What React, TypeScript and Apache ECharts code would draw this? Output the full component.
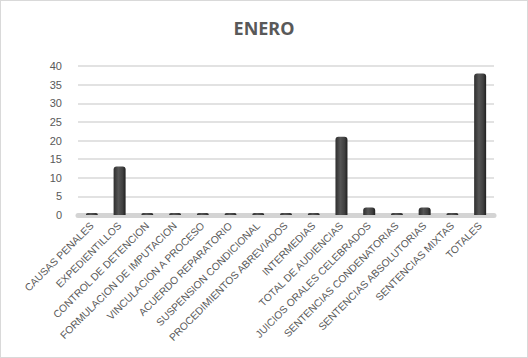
import React, { useEffect, useRef } from "react";
import * as echarts from "echarts";

const categories = [
  "CAUSAS PENALES",
  "EXPEDIENTILLOS",
  "CONTROL DE DETENCION",
  "FORMULACION DE IMPUTACION",
  "VINCULACION A PROCESO",
  "ACUERDO REPARATORIO",
  "SUSPENSION CONDICIONAL",
  "PROCEDIMIENTOS ABREVIADOS",
  "INTERMEDIAS",
  "TOTAL DE AUDIENCIAS",
  "JUICIOS ORALES CELEBRADOS",
  "SENTENCIAS CONDENATORIAS",
  "SENTENCIAS ABSOLUTORIAS",
  "SENTENCIAS MIXTAS",
  "TOTALES",
];
const values = [0, 13, 0, 0, 0, 0, 0, 0, 0, 21, 2, 0, 2, 0, 38];
const yTicks = { min: 0, max: 40, interval: 5 };
const title = "ENERO";

export default function App() {
  const ref = useRef<HTMLDivElement>(null);
  useEffect(() => {
    if (!ref.current) return;
    const chart = echarts.init(ref.current, undefined, { renderer: "svg" });
    const text = "#595959";
    chart.setOption({
      animation: false,
      backgroundColor: "#ffffff",
      title: {
        text: title,
        left: "center",
        top: 13,
        textStyle: {
          fontFamily: "Noto Sans",
          fontSize: 18,
          fontWeight: "bold",
          color: text,
        },
      },
      grid: { left: 77, right: 33, top: 65, bottom: 142 },
      xAxis: {
        type: "category",
        data: categories,
        axisTick: { show: false },
        axisLine: { lineStyle: { color: "#d4d4d4", width: 5 } },
        axisLabel: {
          rotate: 45,
          interval: 0,
          margin: 9,
          fontFamily: "Liberation Sans",
          fontSize: 10.3,
          color: text,
        },
      },
      yAxis: {
        type: "value",
        min: yTicks.min,
        max: yTicks.max,
        interval: yTicks.interval,
        axisLine: { show: false },
        axisTick: { show: false },
        axisLabel: {
          margin: 16,
          fontFamily: "Liberation Sans",
          fontSize: 11,
          color: text,
        },
        splitLine: { lineStyle: { color: "#d9d9d9", width: 1.5 } },
      },
      series: [
        {
          type: "bar",
          data: values,
          barWidth: 12,
          barMinHeight: 2,
          itemStyle: {
            borderRadius: [3, 3, 0, 0],
            color: new echarts.graphic.LinearGradient(0, 0, 1, 0, [
              { offset: 0, color: "#2e2e2e" },
              { offset: 0.4, color: "#555555" },
              { offset: 0.75, color: "#404040" },
              { offset: 1, color: "#1f1f1f" },
            ]),
          },
        },
      ],
    });
    return () => chart.dispose();
  }, []);
  return (
    <div
      style={{
        position: "absolute",
        left: 0,
        top: 0,
        width: 528,
        height: 358,
        boxSizing: "border-box",
        border: "1px solid #d9d9d9",
        background: "#fff",
      }}
    >
      <div ref={ref} style={{ width: 526, height: 356 }} />
    </div>
  );
}
